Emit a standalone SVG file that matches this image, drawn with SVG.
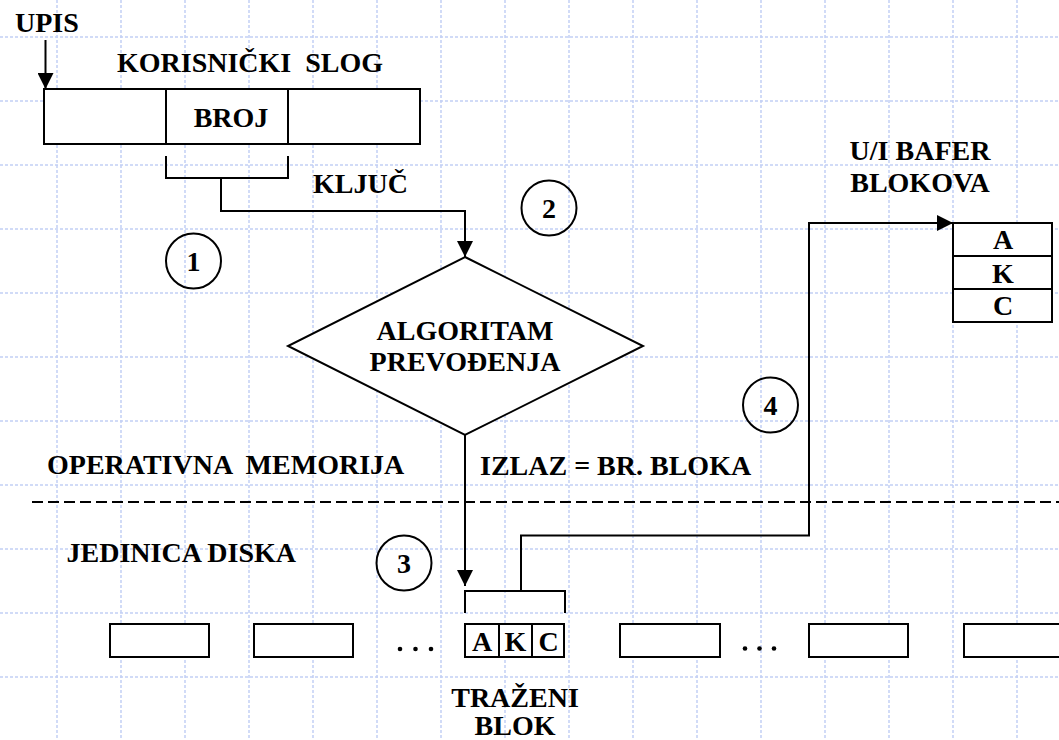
<svg xmlns="http://www.w3.org/2000/svg" width="1059" height="740" viewBox="0 0 1059 740">
<style>
.t{font-family:'Liberation Serif','DejaVu Serif',serif;font-weight:bold;font-size:28px;fill:#000;white-space:pre}
.c{text-anchor:middle}
.s{fill:none;stroke:#000;stroke-width:2}
.b{fill:#fff;stroke:#000;stroke-width:2}
.g{stroke:#c2d0f5;stroke-width:1.5;stroke-dasharray:3 2}
</style>
<defs>
<marker id="ah" viewBox="0 0 16 16" refX="16" refY="8" markerWidth="16" markerHeight="16" markerUnits="userSpaceOnUse" orient="auto">
<path d="M0,0 L16,8 L0,16 Z" fill="#000"/>
</marker>
</defs>
<rect width="1059" height="740" fill="#fff"/>
<g id="grid">
<line class="g" x1="57" y1="0" x2="57" y2="740"/>
<line class="g" x1="121" y1="0" x2="121" y2="740"/>
<line class="g" x1="185" y1="0" x2="185" y2="740"/>
<line class="g" x1="249" y1="0" x2="249" y2="740"/>
<line class="g" x1="313" y1="0" x2="313" y2="740"/>
<line class="g" x1="377" y1="0" x2="377" y2="740"/>
<line class="g" x1="441" y1="0" x2="441" y2="740"/>
<line class="g" x1="505" y1="0" x2="505" y2="740"/>
<line class="g" x1="569" y1="0" x2="569" y2="740"/>
<line class="g" x1="633" y1="0" x2="633" y2="740"/>
<line class="g" x1="697" y1="0" x2="697" y2="740"/>
<line class="g" x1="761" y1="0" x2="761" y2="740"/>
<line class="g" x1="825" y1="0" x2="825" y2="740"/>
<line class="g" x1="889" y1="0" x2="889" y2="740"/>
<line class="g" x1="953" y1="0" x2="953" y2="740"/>
<line class="g" x1="1017" y1="0" x2="1017" y2="740"/>
<line class="g" x1="0" y1="37" x2="1059" y2="37"/>
<line class="g" x1="0" y1="101" x2="1059" y2="101"/>
<line class="g" x1="0" y1="165" x2="1059" y2="165"/>
<line class="g" x1="0" y1="229" x2="1059" y2="229"/>
<line class="g" x1="0" y1="293" x2="1059" y2="293"/>
<line class="g" x1="0" y1="357" x2="1059" y2="357"/>
<line class="g" x1="0" y1="421" x2="1059" y2="421"/>
<line class="g" x1="0" y1="485" x2="1059" y2="485"/>
<line class="g" x1="0" y1="549" x2="1059" y2="549"/>
<line class="g" x1="0" y1="613" x2="1059" y2="613"/>
<line class="g" x1="0" y1="677" x2="1059" y2="677"/>
</g>

<g id="record">
<rect class="b" x="44" y="89" width="376" height="55"/>
<line class="s" x1="166" y1="89" x2="166" y2="144"/>
<line class="s" x1="288" y1="89" x2="288" y2="144"/>
<text class="t c" x="231" y="126.5">BROJ</text>
<text class="t" x="117" y="71.5">KORISNIČKI  SLOG</text>
</g>

<g id="upis"><text class="t" x="15" y="31.5">UPIS</text></g>

<g id="kljuc"><text class="t" x="313" y="193">KLJUČ</text></g>

<g id="step1"><circle class="s" cx="193.5" cy="261" r="27.5"/><text class="t c" x="193.5" y="271">1</text></g>
<g id="step2"><circle class="s" cx="549" cy="208" r="27.5"/><text class="t c" x="549" y="218">2</text></g>
<g id="step3"><circle class="s" cx="404" cy="563" r="27.5"/><text class="t c" x="404" y="573">3</text></g>
<g id="step4"><circle class="s" cx="770.5" cy="405" r="27.5"/><text class="t c" x="770.5" y="415">4</text></g>

<g id="algoritam">
<polygon class="b" points="465,257 643,346 465,435 288,346"/>
<text class="t c" x="465" y="339.5">ALGORITAM</text>
<text class="t c" x="465" y="371">PREVOĐENJA</text>
</g>

<g id="buffer">
<text class="t c" x="920" y="160">U/I BAFER</text>
<text class="t c" x="920" y="192">BLOKOVA</text>
<rect class="b" x="953" y="223" width="99" height="99"/>
<line class="s" x1="953" y1="256" x2="1052" y2="256"/>
<line class="s" x1="953" y1="289" x2="1052" y2="289"/>
<text class="t c" x="1003" y="249">A</text>
<text class="t c" x="1003" y="282.5">K</text>
<text class="t c" x="1003" y="315">C</text>
</g>

<g id="labels">
<text class="t" x="47" y="473.5">OPERATIVNA  MEMORIJA</text>
<text class="t" x="480" y="475">IZLAZ = BR. BLOKA</text>
<text class="t" x="66.5" y="561.5">JEDINICA DISKA</text>
<line x1="32" y1="502" x2="1059" y2="502" stroke="#000" stroke-width="2" stroke-dasharray="11 5"/>
</g>

<g id="disk">
<rect class="b" x="110" y="624" width="99" height="33"/>
<rect class="b" x="254" y="624" width="99" height="33"/>
<circle cx="400" cy="649" r="2.3"/><circle cx="415.5" cy="649" r="2.3"/><circle cx="431" cy="649" r="2.3"/>
<rect class="b" x="620" y="624" width="100" height="33"/>
<circle cx="745" cy="648.5" r="2.3"/><circle cx="759.5" cy="648.5" r="2.3"/><circle cx="774" cy="648.5" r="2.3"/>
<rect class="b" x="809" y="624" width="99" height="33"/>
<rect class="b" x="964" y="624" width="110" height="33"/>
</g>

<g id="trazeni">
<rect class="b" x="465" y="624" width="99" height="33"/>
<line class="s" x1="499" y1="624" x2="499" y2="657"/>
<line class="s" x1="532" y1="624" x2="532" y2="657"/>
<text class="t c" x="482" y="650.5">A</text>
<text class="t c" x="515.5" y="650.5">K</text>
<text class="t c" x="548.5" y="650.5">C</text>
<text class="t c" x="515" y="706.5">TRAŽENI</text>
<text class="t c" x="515" y="735">BLOK</text>
</g>

<g id="connectors">
<line class="s" x1="45.5" y1="40" x2="45.5" y2="89" marker-end="url(#ah)"/>
<polyline class="s" points="166,156 166,178 288,178 288,156"/>
<polyline class="s" points="221,178 221,211 465,211 465,257" marker-end="url(#ah)"/>
<line class="s" x1="465" y1="435" x2="465" y2="586" marker-end="url(#ah)"/>
<polyline class="s" points="465,613 465,591 565,591 565,613"/>
<polyline class="s" points="521,591 521,535.5 809,535.5 809,223 953,223" marker-end="url(#ah)"/>
</g>
</svg>
